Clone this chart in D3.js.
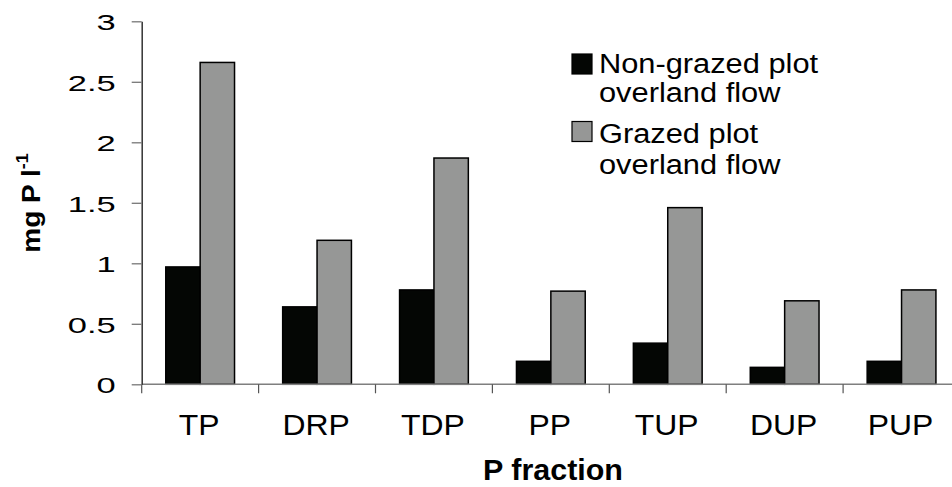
<!DOCTYPE html>
<html>
<head>
<meta charset="utf-8">
<script src="https://cdn.jsdelivr.net/npm/d3@7"></script>
<style>
  html, body { margin: 0; padding: 0; background: #fff; }
  svg { display: block; font-family: "Liberation Sans", Arial, sans-serif; }
</style>
</head>
<body>
<svg id="chart" width="952" height="487"></svg>
<script>
// Phosphorus fractions in overland flow
const categories = ["TP", "DRP", "TDP", "PP", "TUP", "DUP", "PUP"];
const nonGrazed = [0.97, 0.64, 0.78, 0.19, 0.34, 0.14, 0.19];
const grazed    = [2.66, 1.19, 1.87, 0.77, 1.46, 0.69, 0.78];
const seriesLabels = [["Non-grazed plot", "overland flow"], ["Grazed plot", "overland flow"]];
const seriesColors = ["#040604", "#969796"];
const yTicks = [0, 0.5, 1, 1.5, 2, 2.5, 3];

const svg = d3.select("#chart");

const plot = { left: 141.7, right: 960, top: 21.3, bottom: 384.3 };

const y = d3.scaleLinear().domain([0, 3]).range([plot.bottom, plot.top]);
const x = d3.scaleBand().domain(categories).range([plot.left, plot.right]).padding(0);
const xSub = d3.scaleBand().domain([0, 1]).range([0, x.bandwidth()])
  .paddingInner(0).paddingOuter(0.7);

const series = [nonGrazed, grazed];

// bars
const groups = svg.append("g").selectAll("g")
  .data(categories)
  .join("g")
  .attr("transform", c => `translate(${x(c)},0)`);

groups.selectAll("rect")
  .data((c, i) => series.map((s, k) => ({ k, v: s[i] })))
  .join("rect")
  .attr("x", d => xSub(d.k))
  .attr("y", d => y(d.v))
  .attr("width", xSub.bandwidth())
  .attr("height", d => y(0) - y(d.v))
  .attr("fill", d => seriesColors[d.k])
  .attr("stroke", "#000")
  .attr("stroke-width", 1.5);

// x axis: baseline, boundary ticks, category labels
const xAxis = svg.append("g");
xAxis.append("line")
  .attr("x1", plot.left).attr("x2", plot.right)
  .attr("y1", y(0)).attr("y2", y(0))
  .attr("stroke", "#7f7f7f").attr("stroke-width", 1.5);
xAxis.selectAll("line.tick")
  .data(categories)
  .join("line")
  .attr("class", "tick")
  .attr("x1", c => x(c)).attr("x2", c => x(c))
  .attr("y1", y(0)).attr("y2", y(0) + 9)
  .attr("stroke", "#555").attr("stroke-width", 1.2);
xAxis.selectAll("text")
  .data(categories)
  .join("text")
  .attr("transform", c => `translate(${x(c) + x.bandwidth() / 2 - 1},435) scale(1.1,1)`)
  .attr("text-anchor", "middle")
  .attr("font-size", 29)
  .attr("fill", "#000")
  .text(c => c);

// y axis
const yAxis = svg.append("g")
  .attr("transform", `translate(${plot.left},0)`)
  .call(d3.axisLeft(y).tickValues(yTicks).tickSize(10).tickSizeOuter(0).tickFormat(d => String(d)));
yAxis.select(".domain").attr("stroke", "#333").attr("stroke-width", 1.5);
yAxis.selectAll(".tick line").attr("stroke", "#777").attr("stroke-width", 1.3);
yAxis.selectAll(".tick text")
  .attr("x", null)
  .attr("dy", null)
  .attr("dominant-baseline", "central")
  .attr("transform", "translate(-26,0) scale(1.5,1)")
  .attr("font-size", 23)
  .attr("font-family", "'Liberation Sans', Arial, sans-serif")
  .attr("fill", "#000");

// axis titles
svg.append("text")
  .attr("transform", "translate(553,480) scale(1.05,1)")
  .attr("text-anchor", "middle")
  .attr("font-size", 29)
  .attr("font-weight", "bold")
  .text("P fraction");

const yTitle = svg.append("text")
  .attr("transform", "translate(40,203) rotate(-90) scale(1.12,1)")
  .attr("text-anchor", "middle")
  .attr("font-size", 25)
  .attr("font-weight", "bold");
yTitle.append("tspan").text("mg P l");
yTitle.append("tspan").attr("dy", -12).attr("font-size", 16).text("-1");

// legend
const legend = svg.append("g");
const legendRows = [{ sq: 54, base: [73, 102] }, { sq: 121.5, base: [143, 174] }];
seriesLabels.forEach((lines, k) => {
  legend.append("rect")
    .attr("x", 572).attr("y", legendRows[k].sq)
    .attr("width", 20).attr("height", 20)
    .attr("fill", seriesColors[k])
    .attr("stroke", "#000").attr("stroke-width", 1.2);
  lines.forEach((t, j) => {
    legend.append("text")
      .attr("transform", `translate(599,${legendRows[k].base[j]}) scale(1.1,1)`)
      .attr("font-size", 28)
      .attr("fill", "#000")
      .text(t);
  });
});
</script>
</body>
</html>
